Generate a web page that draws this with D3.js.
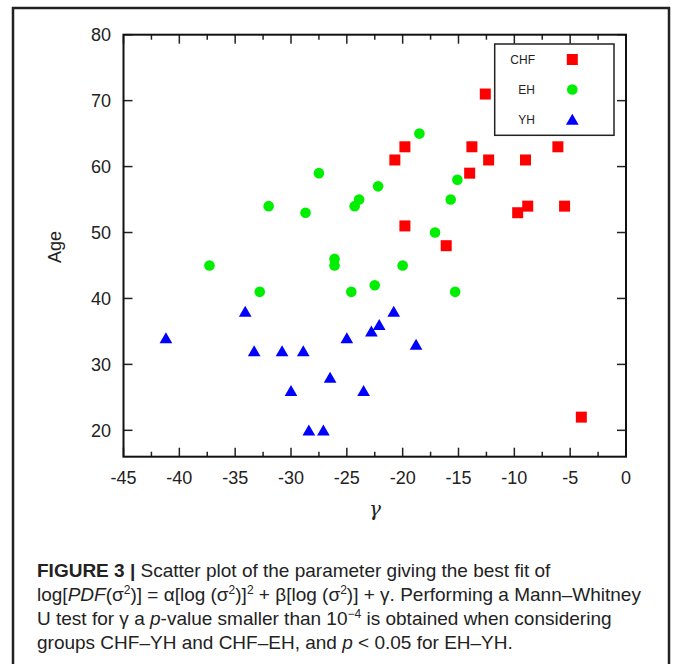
<!DOCTYPE html>
<html>
<head>
<meta charset="utf-8">
<script src="https://cdn.jsdelivr.net/npm/d3@7/dist/d3.min.js"></script>
<style>
    body { margin: 0; background: #fff; }
    .tick-label { font-family: "Liberation Sans", Arial, sans-serif; font-size: 18px; fill: #222; }
    .legend-label { font-family: "Liberation Sans", Arial, sans-serif; font-size: 12px; fill: #222; }
    .caption { font-family: "Liberation Sans", Arial, sans-serif; font-size: 19px; fill: #222; }
</style>
</head>
<body>
<div id="chart"></div>
<script>

var w = 673,
    h = 664;

// data: gamma (x) and age (y) per group
var chf_gamma = [-12.6, -19.8, -13.8, -6.1, -20.7, -12.3, -9.0, -14.0, -8.8, -9.7, -5.5, -19.8, -16.1, -4.0],
    chf_age   = [71, 63, 63, 63, 61, 61, 61, 59, 54, 53, 54, 51, 48, 22];

var eh_gamma = [-37.3, -32.0, -28.7, -27.5, -24.3, -23.9, -26.1, -26.1, -18.5, -22.2, -15.1, -15.7, -17.1, -20.0, -32.8, -24.6, -22.5, -15.3],
    eh_age   = [45, 54, 53, 59, 54, 55, 46, 45, 65, 57, 58, 55, 50, 45, 41, 41, 42, 41];

var yh_gamma = [-41.2, -34.1, -33.3, -30.8, -28.9, -30.0, -26.5, -28.4, -27.1, -25.0, -23.5, -22.8, -22.1, -20.8, -18.8],
    yh_age   = [34, 38, 32, 32, 32, 26, 28, 20, 20, 34, 26, 35, 36, 38, 33];

var group_names = ["CHF", "EH", "YH"];

var x_ticks = [-45, -40, -35, -30, -25, -20, -15, -10, -5, 0],
    y_ticks = [20, 30, 40, 50, 60, 70, 80];

// zip two arrays into point objects
function zip(xs, ys) {
    return xs.map(function(v, i) { return {x: v, y: ys[i]}; });
}

var svg = d3.select("#chart").append("svg")
    .attr("width", w)
    .attr("height", h);

// outer figure frame (open at the bottom of the picture)
svg.append("rect")
    .attr("x", 13)
    .attr("y", 8)
    .attr("width", 656)
    .attr("height", 700)
    .attr("fill", "none")
    .attr("stroke", "#222")
    .attr("stroke-width", 2.5);

// plot area edges
var p_left = 123.5, p_right = 626, p_top = 34.7, p_bottom = 456.7;

var x = d3.scaleLinear()
    .domain([-45, 0])
    .range([p_left, p_right]);

var y = d3.scaleLinear()
    .domain([16, 80])
    .range([p_bottom, p_top]);

var g = svg.append("g");

// inward ticks on all four sides
var minor_x = d3.range(-45, 0.1, 2.5);
minor_x.forEach(function(t) {
    var len = (t % 5 === 0) ? 9 : 5;
    g.append("line")
        .attr("x1", x(t)).attr("x2", x(t))
        .attr("y1", p_bottom).attr("y2", p_bottom - len)
        .attr("stroke", "#222").attr("stroke-width", 1.5);
    g.append("line")
        .attr("x1", x(t)).attr("x2", x(t))
        .attr("y1", p_top).attr("y2", p_top + len)
        .attr("stroke", "#222").attr("stroke-width", 1.5);
});

y_ticks.forEach(function(t) {
    g.append("line")
        .attr("x1", p_left).attr("x2", p_left + 9)
        .attr("y1", y(t)).attr("y2", y(t))
        .attr("stroke", "#222").attr("stroke-width", 1.5);
    g.append("line")
        .attr("x1", p_right).attr("x2", p_right - 9)
        .attr("y1", y(t)).attr("y2", y(t))
        .attr("stroke", "#222").attr("stroke-width", 1.5);
});

// plot frame
g.append("rect")
    .attr("x", p_left)
    .attr("y", p_top)
    .attr("width", p_right - p_left)
    .attr("height", p_bottom - p_top)
    .attr("fill", "none")
    .attr("stroke", "#111")
    .attr("stroke-width", 2);

// tick labels
g.selectAll(".xlab")
    .data(x_ticks)
    .enter().append("text")
    .attr("class", "tick-label")
    .attr("x", function(d) { return x(d); })
    .attr("y", 484)
    .attr("text-anchor", "middle")
    .text(function(d) { return d; });

g.selectAll(".ylab")
    .data(y_ticks)
    .enter().append("text")
    .attr("class", "tick-label")
    .attr("x", 111)
    .attr("y", function(d) { return y(d) + 6.5; })
    .attr("text-anchor", "end")
    .text(function(d) { return d; });

// axis titles
svg.append("text")
    .attr("class", "tick-label")
    .attr("transform", "translate(61, 247) rotate(-90)")
    .attr("text-anchor", "middle")
    .style("font-size", "18px")
    .text("Age");

svg.append("text")
    .attr("x", 375)
    .attr("y", 516)
    .attr("text-anchor", "middle")
    .style("font-family", "'DejaVu Serif', serif")
    .style("font-style", "italic")
    .style("font-size", "20px")
    .style("fill", "#222")
    .text("γ");

// markers
var tri = d3.symbol().type(d3.symbolTriangle).size(70);

g.append("g").selectAll("rect")
    .data(zip(chf_gamma, chf_age))
    .enter().append("rect")
    .attr("x", function(d) { return x(d.x) - 5.5; })
    .attr("y", function(d) { return y(d.y) - 5.5; })
    .attr("width", 11)
    .attr("height", 11)
    .attr("fill", "#ff0000");

g.append("g").selectAll("circle")
    .data(zip(eh_gamma, eh_age))
    .enter().append("circle")
    .attr("cx", function(d) { return x(d.x); })
    .attr("cy", function(d) { return y(d.y); })
    .attr("r", 5.3)
    .attr("fill", "#00ee00");

g.append("g").selectAll("path")
    .data(zip(yh_gamma, yh_age))
    .enter().append("path")
    .attr("d", tri)
    .attr("transform", function(d) { return "translate(" + x(d.x) + "," + (y(d.y) + 1.5) + ")"; })
    .attr("fill", "#0000ff");

// legend
var legend = svg.append("g");

legend.append("rect")
    .attr("x", 494.7)
    .attr("y", 44)
    .attr("width", 119.3)
    .attr("height", 91.3)
    .attr("fill", "#fff")
    .attr("stroke", "#222")
    .attr("stroke-width", 1.5);

group_names.forEach(function(name, i) {
    var cy = 59.5 + i * 30;
    legend.append("text")
        .attr("class", "legend-label")
        .attr("x", 535)
        .attr("y", cy + 4.5)
        .attr("text-anchor", "end")
        .text(name);

    if (i === 0) {
        legend.append("rect")
            .attr("x", 572.3 - 5.5).attr("y", cy - 5.5)
            .attr("width", 11).attr("height", 11)
            .attr("fill", "#ff0000");
    } else if (i === 1) {
        legend.append("circle")
            .attr("cx", 572.3).attr("cy", cy)
            .attr("r", 5.3)
            .attr("fill", "#00ee00");
    } else {
        legend.append("path")
            .attr("d", tri)
            .attr("transform", "translate(572.3," + (cy + 1.5) + ")")
            .attr("fill", "#0000ff");
    }
});

// caption, one text element per line
var cap_x = 37,
    cap_y = 577,
    cap_dy = 24;

function line(i) {
    return svg.append("text")
        .attr("class", "caption")
        .attr("x", cap_x)
        .attr("y", cap_y + i * cap_dy);
}

var l1 = line(0);
l1.append("tspan").style("font-weight", "bold").text("FIGURE 3 | ");
l1.append("tspan").text("Scatter plot of the parameter giving the best fit of");

var l2 = line(1);
l2.append("tspan").text("log[");
l2.append("tspan").style("font-style", "italic").text("PDF");
l2.append("tspan").text("(σ");
l2.append("tspan").attr("dy", -7).style("font-size", "12px").text("2");
l2.append("tspan").attr("dy", 7).text(")] = α[log (σ");
l2.append("tspan").attr("dy", -7).style("font-size", "12px").text("2");
l2.append("tspan").attr("dy", 7).text(")]");
l2.append("tspan").attr("dy", -7).style("font-size", "12px").text("2");
l2.append("tspan").attr("dy", 7).text(" + β[log (σ");
l2.append("tspan").attr("dy", -7).style("font-size", "12px").text("2");
l2.append("tspan").attr("dy", 7).text(")] + γ. Performing a Mann–Whitney");

var l3 = line(2);
l3.append("tspan").text("U test for γ a ");
l3.append("tspan").style("font-style", "italic").text("p");
l3.append("tspan").text("-value smaller than 10");
l3.append("tspan").attr("dy", -7).style("font-size", "12px").text("−4");
l3.append("tspan").attr("dy", 7).text(" is obtained when considering");

var l4 = line(3);
l4.append("tspan").text("groups CHF–YH and CHF–EH, and ");
l4.append("tspan").style("font-style", "italic").text("p");
l4.append("tspan").text(" < 0.05 for EH–YH.");

</script>
</body>
</html>
